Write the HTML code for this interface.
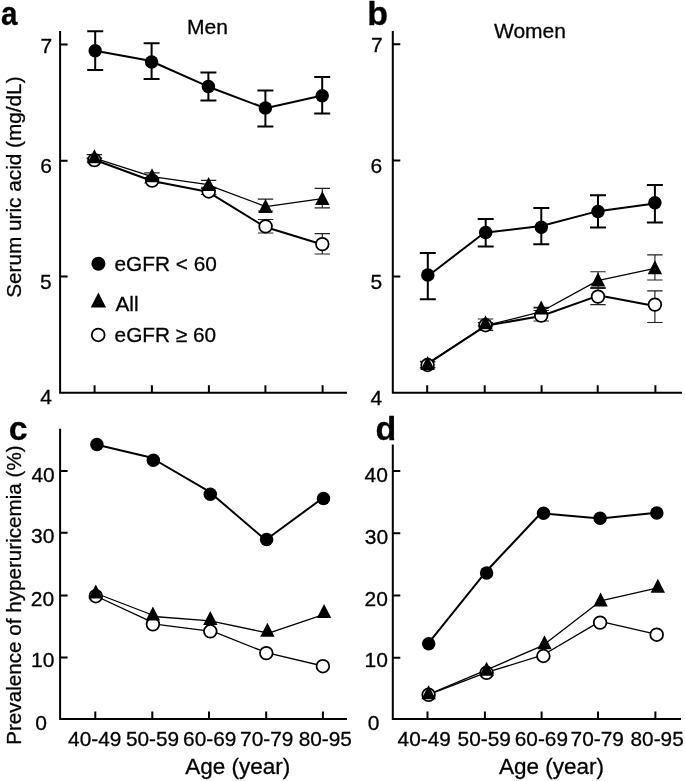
<!DOCTYPE html>
<html><head><meta charset="utf-8"><title>Serum uric acid and hyperuricemia by age</title>
<style>html,body{margin:0;padding:0;background:#fff;overflow:hidden}
svg{display:block;filter:grayscale(1)}
text{font-family:"Liberation Sans",sans-serif;stroke:#000;stroke-width:0.3px;paint-order:stroke}</style></head>
<body><svg width="685" height="781" viewBox="0 0 685 781" font-family='"Liberation Sans", sans-serif' fill="#000"><path d="M60.1 31.1V392.8H347" stroke="#000" stroke-width="2" fill="none"/><path d="M60.1 44.6H67.6M60.1 160.8H67.6M60.1 276.6H67.6M94.6 392.8V385.3M151.9 392.8V385.3M208.9 392.8V385.3M265.4 392.8V385.3M322.6 392.8V385.3" stroke="#000" stroke-width="2" fill="none"/><path d="M392.8 31.1V392.8H682" stroke="#000" stroke-width="2" fill="none"/><path d="M392.8 44.2H400.3M392.8 160.6H400.3M392.8 276.4H400.3M427.2 392.8V385.3M484.7 392.8V385.3M541.6 392.8V385.3M597.7 392.8V385.3M655.4 392.8V385.3" stroke="#000" stroke-width="2" fill="none"/><path d="M60.1 428.8V718.9H347" stroke="#000" stroke-width="2" fill="none"/><path d="M60.1 471.1H67.6M60.1 532.8H67.6M60.1 595.6H67.6M60.1 657.6H67.6M95.3 718.9V711.4M152.3 718.9V711.4M209.0 718.9V711.4M266.2 718.9V711.4M322.9 718.9V711.4" stroke="#000" stroke-width="2" fill="none"/><path d="M392.8 444.5V718.9H681" stroke="#000" stroke-width="2" fill="none"/><path d="M392.8 471.1H400.3M392.8 533.3H400.3M392.8 595.4H400.3M392.8 657.8H400.3M427.5 718.9V711.4M484.9 718.9V711.4M541.6 718.9V711.4M598.0 718.9V711.4M655.4 718.9V711.4" stroke="#000" stroke-width="2" fill="none"/><path d="M94.4 158.3V162.0M86.70 158.3H102.10M86.70 162.0H102.10" stroke="#222" stroke-width="1.15" fill="none"/><path d="M152.1 178.0V183.0M144.40 178.0H159.80M144.40 183.0H159.80" stroke="#222" stroke-width="1.15" fill="none"/><path d="M208.7 188.5V194.5M201.00 188.5H216.40M201.00 194.5H216.40" stroke="#222" stroke-width="1.15" fill="none"/><path d="M265.6 219.5V233.0M257.90 219.5H273.30M257.90 233.0H273.30" stroke="#222" stroke-width="1.15" fill="none"/><path d="M322.3 233.6V254.0M314.60 233.6H330.00M314.60 254.0H330.00" stroke="#222" stroke-width="1.15" fill="none"/><path d="M94.4 154.6V158.0M86.70 154.6H102.10M86.70 158.0H102.10" stroke="#222" stroke-width="1.15" fill="none"/><path d="M152.0 172.9V177.5M144.30 172.9H159.70M144.30 177.5H159.70" stroke="#222" stroke-width="1.15" fill="none"/><path d="M208.6 180.4V187.2M200.90 180.4H216.30M200.90 187.2H216.30" stroke="#222" stroke-width="1.15" fill="none"/><path d="M265.5 199.1V211.0M257.80 199.1H273.20M257.80 211.0H273.20" stroke="#222" stroke-width="1.15" fill="none"/><path d="M322.3 188.3V207.9M314.60 188.3H330.00M314.60 207.9H330.00" stroke="#222" stroke-width="1.15" fill="none"/><path d="M95.2 31.2V70.1M87.20 31.2H103.20M87.20 70.1H103.20" stroke="#000" stroke-width="2.0" fill="none"/><path d="M151.6 43.3V79.1M143.60 43.3H159.60M143.60 79.1H159.60" stroke="#000" stroke-width="2.0" fill="none"/><path d="M208.4 72.6V100.5M200.40 72.6H216.40M200.40 100.5H216.40" stroke="#000" stroke-width="2.0" fill="none"/><path d="M265.4 90.4V126.4M257.40 90.4H273.40M257.40 126.4H273.40" stroke="#000" stroke-width="2.0" fill="none"/><path d="M322.2 77.1V113.5M314.20 77.1H330.20M314.20 113.5H330.20" stroke="#000" stroke-width="2.0" fill="none"/><path d="M94.40 159.78L152.10 181.04L207.54 191.68L265.36 227.03L322.30 244.45" stroke="#000" stroke-width="2.0" fill="none" stroke-linejoin="round"/><path d="M94.50 158.04L152.10 176.56L206.44 184.46L265.82 206.52L322.30 198.55" stroke="#000" stroke-width="1.3" fill="none" stroke-linejoin="round"/><path d="M95.20 50.84L150.10 60.72L208.40 86.70L265.48 108.28L322.20 95.44" stroke="#000" stroke-width="2.0" fill="none" stroke-linejoin="round"/><circle cx="94.4" cy="160.1" r="6.35" fill="#fff" stroke="#000" stroke-width="1.75"/><circle cx="152.1" cy="180.6" r="6.35" fill="#fff" stroke="#000" stroke-width="1.75"/><circle cx="208.7" cy="191.5" r="6.35" fill="#fff" stroke="#000" stroke-width="1.75"/><circle cx="265.6" cy="226.4" r="6.35" fill="#fff" stroke="#000" stroke-width="1.75"/><circle cx="322.3" cy="244.1" r="6.35" fill="#fff" stroke="#000" stroke-width="1.75"/><path d="M94.4 149.15L101.60 163.15L87.20 163.15Z" fill="#000"/><path d="M152.0 168.35L159.20 182.35L144.80 182.35Z" fill="#000"/><path d="M208.6 176.9L215.80 190.9L201.40 190.9Z" fill="#000"/><path d="M265.5 199.1L272.70 213.1L258.30 213.1Z" fill="#000"/><path d="M322.3 190.9L329.50 204.9L315.10 204.9Z" fill="#000"/><circle cx="95.2" cy="50.8" r="6.75" fill="#000"/><circle cx="151.6" cy="62.0" r="6.75" fill="#000"/><circle cx="208.4" cy="86.6" r="6.75" fill="#000"/><circle cx="265.4" cy="107.9" r="6.75" fill="#000"/><circle cx="322.2" cy="95.7" r="6.75" fill="#000"/><path d="M427.6 362.0V368.0M419.90 362.0H435.30M419.90 368.0H435.30" stroke="#222" stroke-width="1.15" fill="none"/><path d="M485.5 322.5V330.3M477.80 322.5H493.20M477.80 330.3H493.20" stroke="#222" stroke-width="1.15" fill="none"/><path d="M541.2 310.5V321.0M533.50 310.5H548.90M533.50 321.0H548.90" stroke="#222" stroke-width="1.15" fill="none"/><path d="M598.0 288.5V304.6M590.30 288.5H605.70M590.30 304.6H605.70" stroke="#222" stroke-width="1.15" fill="none"/><path d="M654.9 290.9V322.5M647.20 290.9H662.60M647.20 322.5H662.60" stroke="#222" stroke-width="1.15" fill="none"/><path d="M427.6 361.4V367.6M419.90 361.4H435.30M419.90 367.6H435.30" stroke="#222" stroke-width="1.15" fill="none"/><path d="M485.5 319.0V326.0M477.80 319.0H493.20M477.80 326.0H493.20" stroke="#222" stroke-width="1.15" fill="none"/><path d="M541.2 307.2V307.8M533.50 307.2H548.90M533.50 307.8H548.90" stroke="#222" stroke-width="1.15" fill="none"/><path d="M598.0 271.7V287.6M590.30 271.7H605.70M590.30 287.6H605.70" stroke="#222" stroke-width="1.15" fill="none"/><path d="M654.9 254.8V280.0M647.20 254.8H662.60M647.20 280.0H662.60" stroke="#222" stroke-width="1.15" fill="none"/><path d="M427.8 252.9V299.2M419.80 252.9H435.80M419.80 299.2H435.80" stroke="#000" stroke-width="2.0" fill="none"/><path d="M485.7 219.0V246.6M477.70 219.0H493.70M477.70 246.6H493.70" stroke="#000" stroke-width="2.0" fill="none"/><path d="M541.3 208.1V244.3M533.30 208.1H549.30M533.30 244.3H549.30" stroke="#000" stroke-width="2.0" fill="none"/><path d="M598.0 195.2V227.5M590.00 195.2H606.00M590.00 227.5H606.00" stroke="#000" stroke-width="2.0" fill="none"/><path d="M654.9 185.0V222.6M646.90 185.0H662.90M646.90 222.6H662.90" stroke="#000" stroke-width="2.0" fill="none"/><path d="M427.50 363.88L485.56 325.89L541.20 315.97L599.23 295.41L654.90 305.99" stroke="#000" stroke-width="2.0" fill="none" stroke-linejoin="round"/><path d="M427.50 363.48L485.18 325.74L540.54 311.98L597.70 280.68L654.90 268.39" stroke="#000" stroke-width="1.3" fill="none" stroke-linejoin="round"/><path d="M427.70 276.25L484.36 232.71L541.30 226.02L598.00 211.15L654.90 203.42" stroke="#000" stroke-width="2.0" fill="none" stroke-linejoin="round"/><circle cx="427.6" cy="365.0" r="6.35" fill="#fff" stroke="#000" stroke-width="1.75"/><circle cx="485.5" cy="325.25" r="6.35" fill="#fff" stroke="#000" stroke-width="1.75"/><circle cx="541.2" cy="315.6" r="6.35" fill="#fff" stroke="#000" stroke-width="1.75"/><circle cx="598.0" cy="296.6" r="6.35" fill="#fff" stroke="#000" stroke-width="1.75"/><circle cx="654.9" cy="304.6" r="6.35" fill="#fff" stroke="#000" stroke-width="1.75"/><path d="M427.6 355.95L434.80 369.95L420.40 369.95Z" fill="#000"/><path d="M485.5 315.35L492.70 329.35L478.30 329.35Z" fill="#000"/><path d="M541.2 300.5L548.40 314.5L534.00 314.5Z" fill="#000"/><path d="M598.0 272.5L605.20 286.5L590.80 286.5Z" fill="#000"/><path d="M654.9 260.3L662.10 274.3L647.70 274.3Z" fill="#000"/><circle cx="427.8" cy="274.9" r="6.75" fill="#000"/><circle cx="485.7" cy="232.6" r="6.75" fill="#000"/><circle cx="541.3" cy="227.2" r="6.75" fill="#000"/><circle cx="598.0" cy="211.6" r="6.75" fill="#000"/><circle cx="654.9" cy="202.8" r="6.75" fill="#000"/><path d="M95.80 596.02L156.90 624.43L213.49 631.71L266.30 652.67L322.90 666.00" stroke="#000" stroke-width="1.3" fill="none" stroke-linejoin="round"/><path d="M95.80 593.26L156.90 616.75L210.30 620.81L268.74 633.24L324.10 614.48" stroke="#000" stroke-width="1.3" fill="none" stroke-linejoin="round"/><path d="M96.90 444.75L150.82 457.49L208.92 491.41L265.64 540.00L323.50 497.53" stroke="#000" stroke-width="2.0" fill="none" stroke-linejoin="round"/><circle cx="95.8" cy="596.2" r="6.35" fill="#fff" stroke="#000" stroke-width="1.75"/><circle cx="152.9" cy="624.3" r="6.35" fill="#fff" stroke="#000" stroke-width="1.75"/><circle cx="210.3" cy="631.3" r="6.35" fill="#fff" stroke="#000" stroke-width="1.75"/><circle cx="266.3" cy="653.1" r="6.35" fill="#fff" stroke="#000" stroke-width="1.75"/><circle cx="322.9" cy="666.2" r="6.35" fill="#fff" stroke="#000" stroke-width="1.75"/><path d="M95.8 584.45L103.00 598.45L88.60 598.45Z" fill="#000"/><path d="M152.9 606.6L160.10 620.6L145.70 620.6Z" fill="#000"/><path d="M210.3 611.0L217.50 625.0L203.10 625.0Z" fill="#000"/><path d="M267.4 622.75L274.60 636.75L260.20 636.75Z" fill="#000"/><path d="M324.1 603.95L331.30 617.95L316.90 617.95Z" fill="#000"/><circle cx="96.9" cy="444.6" r="6.75" fill="#000"/><circle cx="153.35" cy="460.35" r="6.75" fill="#000"/><circle cx="210.3" cy="494.3" r="6.75" fill="#000"/><circle cx="266.6" cy="539.6" r="6.75" fill="#000"/><circle cx="323.5" cy="498.5" r="6.75" fill="#000"/><path d="M428.60 694.71L486.60 672.41L542.63 655.21L600.13 621.33L656.70 634.33" stroke="#000" stroke-width="1.3" fill="none" stroke-linejoin="round"/><path d="M428.60 694.35L486.60 669.79L542.55 645.65L600.60 600.93L657.80 587.95" stroke="#000" stroke-width="1.3" fill="none" stroke-linejoin="round"/><path d="M428.70 642.83L486.60 570.97L540.85 513.25L600.10 518.51L656.80 512.65" stroke="#000" stroke-width="2.0" fill="none" stroke-linejoin="round"/><circle cx="428.6" cy="694.8" r="6.35" fill="#fff" stroke="#000" stroke-width="1.75"/><circle cx="486.6" cy="672.8" r="6.35" fill="#fff" stroke="#000" stroke-width="1.75"/><circle cx="543.4" cy="656.0" r="6.35" fill="#fff" stroke="#000" stroke-width="1.75"/><circle cx="600.1" cy="622.6" r="6.35" fill="#fff" stroke="#000" stroke-width="1.75"/><circle cx="656.7" cy="634.7" r="6.35" fill="#fff" stroke="#000" stroke-width="1.75"/><path d="M428.6 685.2L435.80 699.2L421.40 699.2Z" fill="#000"/><path d="M486.6 661.7L493.80 675.7L479.40 675.7Z" fill="#000"/><path d="M544.5 635.15L551.70 649.15L537.30 649.15Z" fill="#000"/><path d="M600.6 592.45L607.80 606.45L593.40 606.45Z" fill="#000"/><path d="M657.8 578.75L665.00 592.75L650.60 592.75Z" fill="#000"/><circle cx="428.7" cy="643.7" r="6.75" fill="#000"/><circle cx="486.6" cy="573.1" r="6.75" fill="#000"/><circle cx="543.55" cy="513.3" r="6.75" fill="#000"/><circle cx="600.1" cy="518.2" r="6.75" fill="#000"/><circle cx="656.8" cy="512.9" r="6.75" fill="#000"/><circle cx="98.4" cy="263.7" r="7.0" fill="#000"/><path d="M98.4 292.6L106.05 307.6L90.75 307.6Z" fill="#000"/><circle cx="98.2" cy="334.9" r="6.4" fill="#fff" stroke="#000" stroke-width="1.75"/><text transform="translate(1.12,25.3) scale(0.87,1)" font-size="34.0" font-weight="bold">a</text><text transform="translate(367.25,25.48)" font-size="34.0" font-weight="bold">b</text><text transform="translate(8.82,439.8)" font-size="34.0" font-weight="bold">c</text><text transform="translate(375.5,439.68)" font-size="34.0" font-weight="bold">d</text><text transform="translate(186.98,33.52)" font-size="21.0">Men</text><text transform="translate(493.95,37.67)" font-size="21.0">Women</text><text transform="translate(40.45,52.65)" font-size="21.0">7</text><text transform="translate(40.28,172.7)" font-size="21.0">6</text><text transform="translate(40.12,288.52)" font-size="21.0">5</text><text transform="translate(40.2,404.4)" font-size="21.0">4</text><text transform="translate(371.05,52.4)" font-size="21.0">7</text><text transform="translate(370.52,172.85)" font-size="21.0">6</text><text transform="translate(370.52,289.32)" font-size="21.0">5</text><text transform="translate(370.45,404.95)" font-size="21.0">4</text><text transform="translate(31.4,481.7)" font-size="21.0">40</text><text transform="translate(31.12,542.75)" font-size="21.0">30</text><text transform="translate(30.7,606.3)" font-size="21.0">20</text><text transform="translate(31.1,667.45)" font-size="21.0">10</text><text transform="translate(35.3,729.55)" font-size="21.0">0</text><text transform="translate(364.6,481.75)" font-size="21.0">40</text><text transform="translate(364.72,543.5)" font-size="21.0">30</text><text transform="translate(364.5,605.75)" font-size="21.0">20</text><text transform="translate(364.6,667.2)" font-size="21.0">10</text><text transform="translate(367.8,729.8)" font-size="21.0">0</text><text transform="translate(68.12,746.22)" font-size="20.8">40-49</text><text transform="translate(125.88,746.22)" font-size="20.8">50-59</text><text transform="translate(183.12,746.22)" font-size="20.8">60-69</text><text transform="translate(240.08,746.22)" font-size="20.8">70-79</text><text transform="translate(298.68,746.32)" font-size="20.8">80-95</text><text transform="translate(397.62,746.22)" font-size="20.8">40-49</text><text transform="translate(457.62,746.22)" font-size="20.8">50-59</text><text transform="translate(514.78,746.22)" font-size="20.8">60-69</text><text transform="translate(570.58,746.22)" font-size="20.8">70-79</text><text transform="translate(630.52,746.22)" font-size="20.8">80-95</text><text transform="translate(185.18,774.25)" font-size="22.5">Age (year)</text><text transform="translate(498.98,774.25)" font-size="22.5">Age (year)</text><text transform="translate(114.5,270.52)" font-size="20.8">eGFR &lt; 60</text><text transform="translate(115.48,310.5)" font-size="20.8">All</text><text transform="translate(114.62,342.28)" font-size="20.8">eGFR ≥ 60</text><text transform="translate(21.22,297.85) rotate(-90)" font-size="20.75">Serum uric acid (mg/dL)</text><text transform="translate(21.22,744.78) rotate(-90)" font-size="20.65">Prevalence of hyperuricemia (%)</text></svg></body></html>
